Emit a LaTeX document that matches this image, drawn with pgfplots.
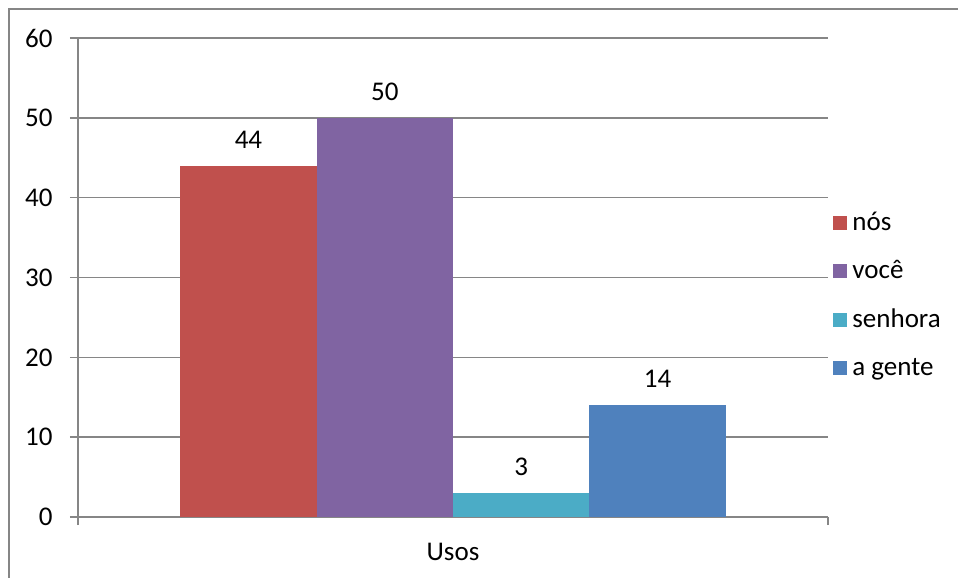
\documentclass[border=0pt]{standalone}
\usepackage{fontspec}
\setmainfont{Carlito}
\usepackage{pgfplots}
\pgfplotsset{compat=1.18}
\definecolor{cnos}{HTML}{C0504D}
\definecolor{cvoce}{HTML}{8064A2}
\definecolor{csenhora}{HTML}{4BACC6}
\definecolor{cgente}{HTML}{4F81BD}
\definecolor{linegray}{HTML}{868686}
\pgfplotsset{sqlegend/.style={legend image code/.code={\fill[##1] (0pt,-3.5pt) rectangle (7pt,3.5pt);}}}
\begin{document}
\begin{tikzpicture}[x=0.5pt,y=0.5pt]
\useasboundingbox (0,0) rectangle (958,578);
\draw[color=linegray, line width=0.8pt] (9,-5) -- (9,569) -- (965,569);
\begin{axis}[
  at={(39pt,30.5pt)}, anchor=south west,
  scale only axis, width=375pt, height=239.5pt,
  xmin=-2.75, xmax=2.75, ymin=0, ymax=60,
  ytick={0,10,...,60},
  xtick={-2.75,2.75}, xticklabels={,},
  axis x line*=bottom, axis y line*=left,
  axis line style={-, color=linegray, line width=0.8pt},
  tick align=outside, major tick length=4pt,
  tick style={color=linegray, line width=0.8pt},
  ymajorgrids, grid style={color=linegray, line width=0.8pt},
  /pgf/number format/assume math mode=true,
  tick label style={font=\fontsize{13.5}{16}\selectfont},
  yticklabel style={anchor=east, inner sep=0pt, xshift=-8.5pt},
  xlabel={Usos},
  xlabel style={at={(axis description cs:0.5,0)}, anchor=base, inner sep=0pt, yshift=-21.5pt, font=\fontsize{13.5}{16}\selectfont},
  nodes near coords,
  every node near coord/.append style={font=\fontsize{13.5}{16}\selectfont, anchor=south, inner sep=0pt, yshift=8.5pt, text=black},
  legend style={draw=none, fill=none, inner sep=0pt, at={(1,0.5)}, anchor=west, xshift=2.5pt, yshift=-9pt,
    row sep=0pt, column sep=2.5pt,
    nodes={inner sep=0pt, minimum height=24.2pt, font=\fontsize{13.5}{16}\selectfont}},
  legend cell align=left,
]
\addplot[ybar, bar width=1, bar shift=0pt, fill=cnos, draw=none, sqlegend] coordinates {(-1.5,44)};
\addplot[ybar, bar width=1, bar shift=0pt, fill=cvoce, draw=none, sqlegend] coordinates {(-0.5,50)};
\addplot[ybar, bar width=1, bar shift=0pt, fill=csenhora, draw=none, sqlegend] coordinates {(0.5,3)};
\addplot[ybar, bar width=1, bar shift=0pt, fill=cgente, draw=none, sqlegend] coordinates {(1.5,14)};
\legend{nós, você, senhora, a gente}
\end{axis}
\end{tikzpicture}
\end{document}
